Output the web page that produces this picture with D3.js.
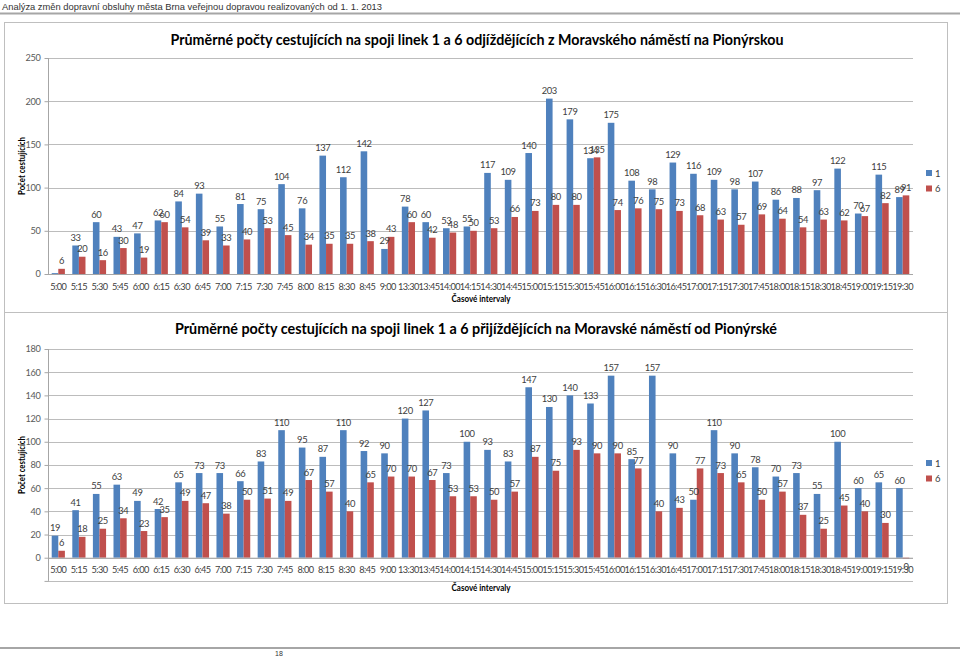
<!DOCTYPE html>
<html><head><meta charset="utf-8">
<script src="https://cdn.jsdelivr.net/npm/d3@7"></script>
<style>body{margin:0;background:#fff}svg{display:block}</style>
</head><body><svg id="c" width="960" height="657"></svg>
<script>
const categories = ["5:00","5:15","5:30","5:45","6:00","6:15","6:30","6:45","7:00","7:15","7:30","7:45","8:00","8:15","8:30","8:45","9:00","13:30","13:45","14:00","14:15","14:30","14:45","15:00","15:15","15:30","15:45","16:00","16:15","16:30","16:45","17:00","17:15","17:30","17:45","18:00","18:15","18:30","18:45","19:00","19:15","19:30"];
const seriesNames = ["1","6"];
// Chart 1: departures Moravské náměstí -> Pionýrská
const dep1 = [1,33,60,43,47,62,84,93,55,81,75,104,76,137,112,142,29,78,60,53,55,117,109,140,203,179,134,175,108,98,129,116,109,98,107,86,88,97,122,70,115,89];
const dep6 = [6,20,16,30,19,60,54,39,33,40,53,45,34,35,35,38,43,60,42,48,50,53,66,73,80,80,135,74,76,75,73,68,63,57,69,64,54,63,62,67,82,91];
const depUnlabeled = [["1","5:00"]];
// Chart 2: arrivals Pionýrská -> Moravské náměstí
const arr1 = [19,41,55,63,49,42,65,73,73,66,83,110,95,87,110,92,90,120,127,73,100,93,83,147,130,140,133,157,85,157,90,50,110,90,78,70,73,55,100,60,65,60];
const arr6 = [6,18,25,34,23,35,49,47,38,50,51,49,67,57,40,65,70,70,67,53,53,50,57,87,75,93,90,90,77,40,43,77,73,65,50,57,37,25,45,40,30,-0.4];
const depTicks = [0,50,100,150,200,250];
const arrTicks = [-20,0,20,40,60,80,100,120,140,160,180];
const arrTickLabels = ["","0","20","40","60","80","100","120","140","160","180"];
const headerText = "Analýza změn dopravní obsluhy města Brna veřejnou dopravou realizovaných od 1. 1. 2013";
const title1 = "Průměrné počty cestujících na spoji linek 1 a 6 odjíždějících z Moravského náměstí na Pionýrskou";
const title2 = "Průměrné počty cestujících na spoji linek 1 a 6 přijíždějících na Moravské náměstí od Pionýrské";
const yTitle = "Počet cestujících";
const xTitle = "Časové intervaly";
const pageNo = "18";

const colors = {"1":"#4F81BD","6":"#C0504D"};
const FONT = "Lato, 'Open Sans', sans-serif";
const svg = d3.select("#c");

// page header
svg.append("text").attr("x",2).attr("y",9.5).attr("font-family","'Liberation Sans', Arial, sans-serif")
  .attr("font-size",9.6).attr("fill","#333").attr("textLength",380).attr("lengthAdjust","spacingAndGlyphs").text(headerText);
svg.append("line").attr("x1",0).attr("x2",960).attr("y1",13.5).attr("y2",13.5).attr("stroke","#a6a6a6").attr("stroke-width",2);
// footer
svg.append("line").attr("x1",0).attr("x2",960).attr("y1",648).attr("y2",648).attr("stroke","#a6a6a6").attr("stroke-width",2);
svg.append("text").attr("x",279).attr("y",656).attr("text-anchor","middle").attr("font-family","'Liberation Sans', Arial, sans-serif")
  .attr("font-size",7).attr("fill","#333").text(pageNo);

function drawChart(o){
  const g = svg.append("g");
  g.append("rect").attr("x",o.box[0]+0.5).attr("y",o.box[1]+0.5).attr("width",o.box[2]).attr("height",o.box[3])
    .attr("fill","#fff").attr("stroke","#bfbfbf");
  const x0 = d3.scaleBand().domain(categories).range([48,913]).paddingInner(0.36).paddingOuter(0.18);
  const x1 = d3.scaleBand().domain(seriesNames).range([0,x0.bandwidth()]);
  const y = d3.scaleLinear().domain(o.domain).range(o.range);
  // gridlines
  g.selectAll(".grid").data(o.ticks).join("line")
    .attr("x1",48).attr("x2",913).attr("y1",d=>Math.round(y(d))+0.5).attr("y2",d=>Math.round(y(d))+0.5)
    .attr("stroke","#bcbcbc").attr("stroke-width",1);
  // y axis
  const yAxis = d3.axisLeft(y).tickValues(o.ticks).tickSize(4).tickPadding(4)
    .tickFormat((d,i)=>o.tickLabels ? o.tickLabels[i] : d);
  const ya = g.append("g").attr("transform","translate(48.5,0)").call(yAxis);
  ya.selectAll("path,line").attr("stroke","#a6a6a6");
  ya.select(".domain").attr("d",`M0,${y(o.domain[1])}V${y(o.domain[0])}`);
  ya.selectAll("text").attr("font-family",FONT).attr("font-size",9.2).attr("letter-spacing",-0.3).attr("fill","#595959");
  // bars
  const data = categories.map((c,i)=>({c, vals:[{s:"1",v:o.s1[i]},{s:"6",v:o.s6[i]}]}));
  const grp = g.selectAll(".cat").data(data).join("g").attr("transform",d=>`translate(${x0(d.c)},0)`);
  grp.selectAll("rect").data(d=>d.vals.map(v=>({...v,c:d.c}))).join("rect")
    .attr("x",d=>x1(d.s)).attr("width",x1.bandwidth())
    .attr("y",d=>Math.min(y(d.v),y(0))).attr("height",d=>Math.max(1,Math.abs(y(d.v)-y(0))))
    .attr("fill",d=>colors[d.s]);
  // value labels
  const unl = o.unlabeled||[];
  grp.selectAll("text").data(d=>d.vals.map(v=>({...v,c:d.c})).filter(v=>!unl.some(u=>u[0]===v.s&&u[1]===v.c))).join("text")
    .attr("x",d=>x1(d.s)+x1.bandwidth()/2)
    .attr("y",d=>d.v>=0 ? y(d.v)-4.5 : y(d.v)+12)
    .attr("text-anchor","middle").attr("font-family",FONT).attr("font-size",9.4).attr("letter-spacing",-0.4).attr("fill","#404040")
    .text(d=>String(Math.round(d.v)));
  // x category labels
  const xa = g.append("g").attr("transform",`translate(0,${y(0)})`)
    .call(d3.axisBottom(x0).tickSize(0).tickPadding(9));
  xa.select(".domain").attr("stroke","#a6a6a6").attr("d","M48,0.5H913");
  xa.selectAll("text").attr("font-family",FONT).attr("font-size",9.2).attr("fill","#404040").attr("letter-spacing",-0.55);
  // titles
  g.append("text").attr("x",o.titleX).attr("y",o.titleY).attr("text-anchor","middle")
    .attr("font-family",FONT).attr("font-weight","bold").attr("font-size",16).attr("fill","#000")
    .attr("textLength",o.titleW).attr("lengthAdjust","spacingAndGlyphs").text(o.title);
  g.append("text").attr("x",481).attr("y",o.xTitleY).attr("text-anchor","middle")
    .attr("font-family",FONT).attr("font-weight","bold").attr("font-size",9).attr("fill","#000")
    .attr("textLength",59).attr("lengthAdjust","spacingAndGlyphs").text(xTitle);
  g.append("text").attr("transform",`translate(25,${o.yTitleY}) rotate(-90)`).attr("text-anchor","middle")
    .attr("font-family",FONT).attr("font-weight","bold").attr("font-size",9).attr("fill","#000")
    .attr("textLength",58).attr("lengthAdjust","spacingAndGlyphs").text(yTitle);
  // legend
  const lg = g.selectAll(".lg").data(seriesNames).join("g")
    .attr("transform",(d,i)=>`translate(926,${o.legendY+i*15.5})`);
  lg.append("rect").attr("x",0).attr("y",-3).attr("width",6).attr("height",6).attr("fill",d=>colors[d]);
  lg.append("text").attr("x",9).attr("y",3.5).attr("font-family",FONT).attr("font-size",9.5).attr("fill","#404040").text(d=>d);
}

drawChart({box:[4,22,943,290], domain:[0,250], range:[274,58], ticks:depTicks, s1:dep1, s6:dep6,
  unlabeled:depUnlabeled, title:title1, titleX:477, titleY:45, titleW:613, xTitleY:301.5, yTitleY:166, legendY:173});
drawChart({box:[4,312,943,291], domain:[-20,180], range:[580.9,349], ticks:arrTicks, tickLabels:arrTickLabels,
  s1:arr1, s6:arr6, title:title2, titleX:476, titleY:334, titleW:602, xTitleY:591, yTitleY:465, legendY:463});
</script></body></html>
